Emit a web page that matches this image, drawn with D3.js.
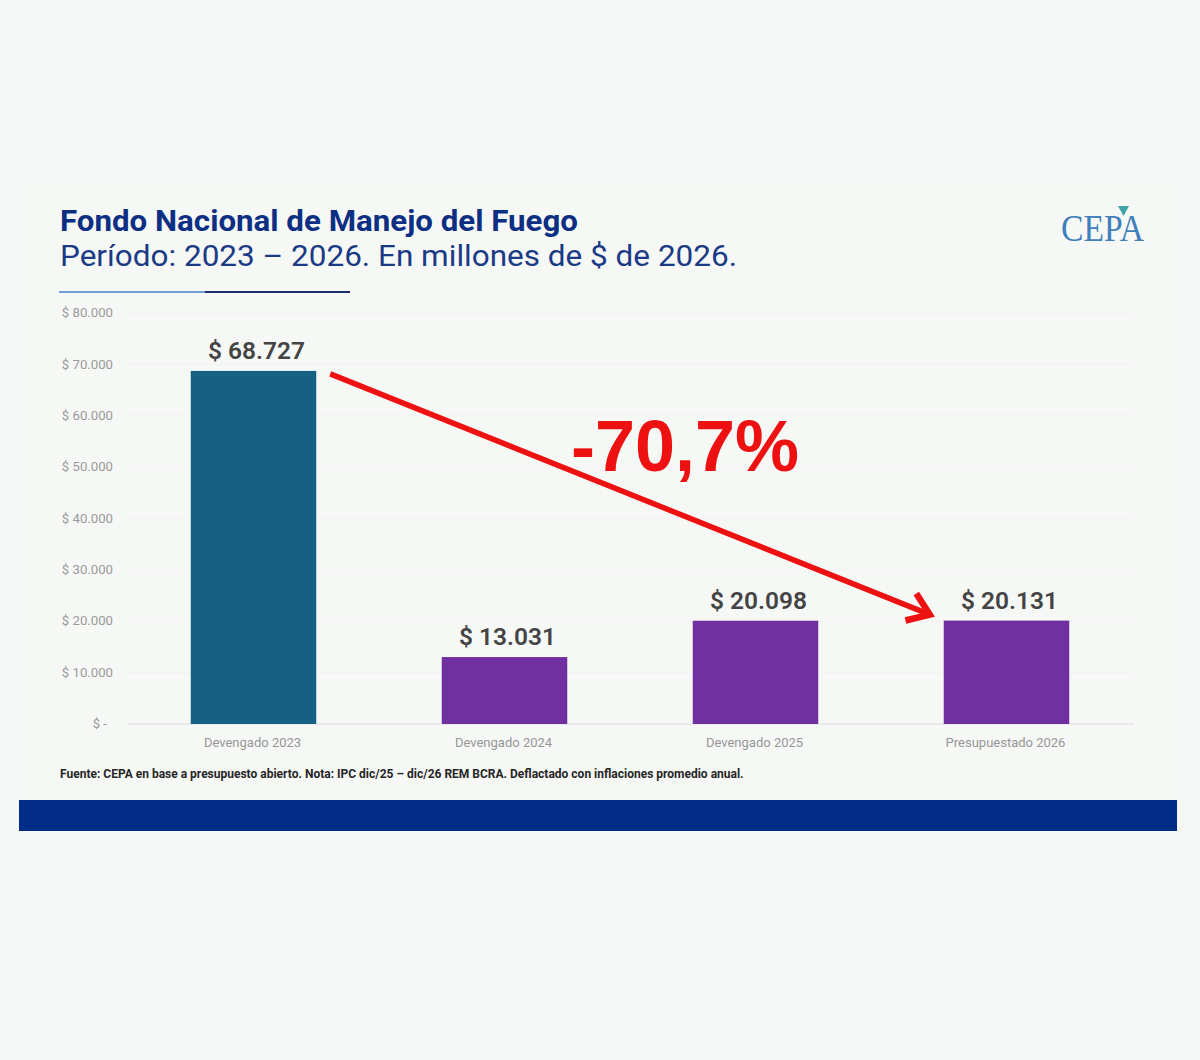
<!DOCTYPE html>
<html>
<head>
    <meta charset="utf-8">
    <title>Fondo Nacional de Manejo del Fuego</title>
    <script src="https://d3js.org/d3.v7.min.js"></script>
    <style>
        html, body { margin: 0; padding: 0; background: #f4f7f5; }
        svg { display: block; font-family: Roboto, sans-serif; }
    </style>
</head>
<body>
    <div id="chart"></div>

    <script>
        const categories = ['Devengado 2023', 'Devengado 2024', 'Devengado 2025', 'Presupuestado 2026'];
        const values = [68727, 13031, 20098, 20131];
        const valueLabels = ['$ 68.727', '$ 13.031', '$ 20.098', '$ 20.131'];
        const barColors = ['#166083', '#70309f', '#70309f', '#70309f'];
        const tickValues = [0, 10000, 20000, 30000, 40000, 50000, 60000, 70000, 80000];
        const tickLabels = ['$ -', '$ 10.000', '$ 20.000', '$ 30.000', '$ 40.000', '$ 50.000', '$ 60.000', '$ 70.000', '$ 80.000'];
        const title = 'Fondo Nacional de Manejo del Fuego';
        const subtitle = 'Período: 2023 – 2026. En millones de $ de 2026.';
        const source = 'Fuente: CEPA en base a presupuesto abierto. Nota: IPC dic/25 – dic/26 REM BCRA. Deflactado con inflaciones promedio anual.';
        const changeLabel = '-70,7%';

        const svg = d3.select('#chart')
            .append('svg')
            .attr('width', 1200)
            .attr('height', 1060);

        // panel and footer band
        svg.append('rect').attr('x', 19).attr('y', 180).attr('width', 1158).attr('height', 620).attr('fill', '#f6f8f6');
        svg.append('rect').attr('x', 19).attr('y', 800).attr('width', 1158).attr('height', 31).attr('fill', '#012d87');

        const x = d3.scaleBand()
            .domain(categories)
            .range([128, 1132])
            .paddingInner(0.5)
            .paddingOuter(0.25);

        const y = d3.scaleLinear()
            .domain([0, 80000])
            .range([724, 313]);

        // gridlines
        svg.append('g')
            .selectAll('line')
            .data(tickValues)
            .enter()
            .append('line')
            .attr('x1', 128)
            .attr('x2', 1134)
            .attr('y1', d => y(d))
            .attr('y2', d => y(d))
            .attr('stroke', d => d === 0 ? '#e4e5e4' : '#f1f2f1')
            .attr('stroke-width', d => d === 0 ? 1.5 : 1);

        // y axis
        const yAxis = svg.append('g')
            .attr('transform', 'translate(113,0)')
            .call(d3.axisLeft(y).tickValues(tickValues).tickSize(0).tickPadding(0).tickFormat((d, i) => tickLabels[i]));
        yAxis.select('.domain').remove();
        yAxis.selectAll('text')
            .attr('fill', '#9a9a9a')
            .style('font-family', 'Roboto, sans-serif')
            .style('font-size', '13.2px')
            .attr('dy', '0.28em');
        yAxis.selectAll('text')
            .filter(d => d === 0)
            .attr('dx', -6);

        // x axis
        const xAxis = svg.append('g')
            .attr('transform', 'translate(-1,724)')
            .call(d3.axisBottom(x).tickSize(0).tickPadding(0));
        xAxis.select('.domain').remove();
        xAxis.selectAll('text')
            .attr('y', 23)
            .attr('dy', 0)
            .attr('fill', '#969696')
            .style('font-family', 'Roboto, sans-serif')
            .style('font-size', '13px');

        // bars
        svg.append('g')
            .selectAll('rect')
            .data(categories)
            .enter()
            .append('rect')
            .attr('x', d => x(d))
            .attr('y', (d, i) => y(values[i]))
            .attr('width', x.bandwidth())
            .attr('height', (d, i) => y(0) - y(values[i]))
            .attr('fill', (d, i) => barColors[i]);

        // value labels
        svg.append('g')
            .selectAll('text')
            .data(categories)
            .enter()
            .append('text')
            .attr('x', d => x(d) + x.bandwidth() / 2 + 3)
            .attr('y', (d, i) => y(values[i]) - 12)
            .attr('text-anchor', 'middle')
            .attr('fill', '#444444')
            .attr('font-size', 24.5)
            .attr('font-weight', 600)
            .text((d, i) => valueLabels[i]);

        // titles, stretched to the reference width so the two lines keep apart
        svg.append('text').attr('x', 60).attr('y', 231).attr('fill', '#0c2f84')
            .attr('font-size', 29.5).attr('font-weight', 700)
            .attr('textLength', 518).attr('lengthAdjust', 'spacingAndGlyphs').text(title);
        svg.append('text').attr('x', 60).attr('y', 266).attr('fill', '#1b3a86')
            .attr('font-size', 29.5)
            .attr('textLength', 677).attr('lengthAdjust', 'spacingAndGlyphs').text(subtitle);

        // title rule
        svg.append('line').attr('x1', 59).attr('x2', 205).attr('y1', 292).attr('y2', 292)
            .attr('stroke', '#6f9fd6').attr('stroke-width', 2);
        svg.append('line').attr('x1', 205).attr('x2', 350).attr('y1', 292).attr('y2', 292)
            .attr('stroke', '#1c2f6e').attr('stroke-width', 2);

        // source note
        svg.append('text').attr('x', 60).attr('y', 778).attr('fill', '#262626')
            .attr('font-size', 12).attr('font-weight', 700).text(source);

        // logo
        const logo = svg.append('g');
        logo.append('text').attr('x', 1061).attr('y', 241).attr('fill', '#3f80ba')
            .attr('font-family', '"Liberation Serif", serif').attr('font-size', 38)
            .attr('textLength', 83).attr('lengthAdjust', 'spacingAndGlyphs').text('CEPA');
        logo.append('path').attr('d', d3.line()([[1118, 206], [1129, 206], [1123.5, 216]]))
            .attr('fill', '#3fa3a8');

        // arrow between first and last bars
        const arrowStart = [x(categories[0]) + x.bandwidth() + 14, y(values[0]) + 3];
        const arrowEnd = [x(categories[3]) - 14, y(values[3]) - 6];
        const angle = Math.atan2(arrowEnd[1] - arrowStart[1], arrowEnd[0] - arrowStart[0]);
        const head = s => [
            arrowEnd[0] - 25 * Math.cos(angle + s * 0.62),
            arrowEnd[1] - 25 * Math.sin(angle + s * 0.62)
        ];
        const arrow = svg.append('g')
            .attr('fill', 'none')
            .attr('stroke', '#ee1111')
            .attr('stroke-width', 5.5);
        arrow.append('path').attr('d', d3.line()([arrowStart, arrowEnd]));
        arrow.append('path').attr('stroke-width', 6.5).attr('d', d3.line()([head(1), arrowEnd, head(-1)]));

        svg.append('text').attr('x', 685).attr('y', 471).attr('text-anchor', 'middle')
            .attr('fill', '#ee1111').attr('font-family', '"Liberation Sans", Arial, sans-serif')
            .attr('font-size', 72).attr('font-weight', 700).text(changeLabel);
    </script>
</body>
</html>
